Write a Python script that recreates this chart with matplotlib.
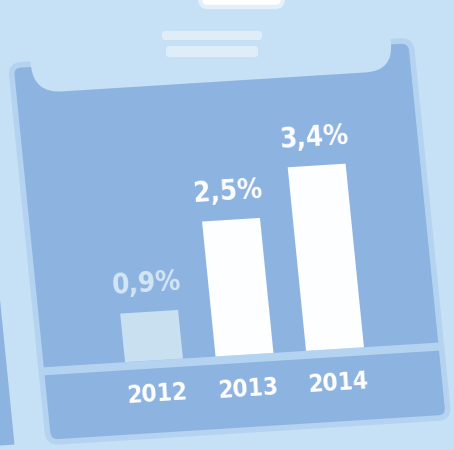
import numpy as np
import matplotlib
matplotlib.use("Agg")
import matplotlib.pyplot as plt
from matplotlib.patches import Rectangle, FancyBboxPatch
from matplotlib.transforms import Affine2D

years = ["2012", "2013", "2014"]
growth = [0.9, 2.5, 3.4]
growth_labels = ["0,9%", "2,5%", "3,4%"]

BG = "#c6e0f5"
PANEL = "#8db3e1"
BORDER = "#b3d3f0"
bar_colors = ["#c9e0f1", "#fdfeff", "#fdfeff"]
label_colors = ["#d3e6f5", "#fdfeff", "#fdfeff"]
FONT = ["DejaVu Sans"]

W, H = 454, 450
fig = plt.figure(figsize=(W / 100, H / 100), dpi=100)
fig.patch.set_facecolor(BG)

# the source is a photo taken at a slight angle: shear everything in pixel space
kx, ky = -0.1, 0.0625
cx, cy = 227, 225
skew = Affine2D(np.array([[1, kx, -kx * cy], [ky, 1, -ky * cx], [0, 0, 1]]))

bg = fig.add_axes([0, 0, 1, 1])
bg.set_xlim(0, W)
bg.set_ylim(0, H)
bg.axis("off")
tr = bg.transData + skew

# neighbouring panel on the left edge, main panel, tab cut-out and base strip
bg.add_patch(Rectangle((-120, 20), 114, 377, fc=PANEL, ec="none", transform=tr))
bg.add_patch(FancyBboxPatch((28, 20), 400, 377, boxstyle="round,pad=0,rounding_size=10",
                            fc=PANEL, ec=BORDER, lw=4, transform=tr))
bg.add_patch(FancyBboxPatch((48, 368), 360, 140, boxstyle="round,pad=0,rounding_size=28",
                            fc=BG, ec="none", transform=tr))
bg.add_patch(Rectangle((28, 87), 400, 8, fc=BORDER, ec="none", transform=tr))

# blurred heading in the tab and the icon peeking in at the top
bg.add_patch(FancyBboxPatch((162, 410), 100, 9, boxstyle="round,pad=0,rounding_size=3",
                            fc="white", ec="none", alpha=0.45))
bg.add_patch(FancyBboxPatch((166, 393), 92, 11, boxstyle="round,pad=0,rounding_size=3",
                            fc="white", ec="none", alpha=0.45))
bg.add_patch(FancyBboxPatch((200, 443), 83, 20, boxstyle="round,pad=0,rounding_size=8",
                            fc="white", ec="#e2f0fb", lw=3))

# bars
px_unit = 54
x0, step = 141, 90.5
ax = fig.add_axes([(x0 - 0.6 * step) / W, 95 / H, 3.2 * step / W, 4.5 * px_unit / H])
ax.set_xlim(-0.6, 2.6)
ax.set_ylim(0, 4.5)
ax.axis("off")
ax.patch.set_visible(False)
dtr = ax.transData + skew

bars = ax.bar(range(len(years)), growth, width=0.64, color=bar_colors)
for b in bars:
    b.set_transform(dtr)
    b.set_clip_on(False)

for i, (v, lab) in enumerate(zip(growth, growth_labels)):
    ax.text(i, v + 0.52, lab, transform=dtr, ha="center", va="center", rotation=3.6,
            color=label_colors[i], fontsize=20, fontweight="bold", family=FONT,
            fontstretch="condensed", clip_on=False)
    ax.text(i, -0.63, years[i], transform=dtr, ha="center", va="center", rotation=3.6,
            color="white", fontsize=17.5, fontweight="bold", family=FONT,
            fontstretch="condensed", clip_on=False)

fig.savefig("out.png", dpi=100, facecolor=BG)
